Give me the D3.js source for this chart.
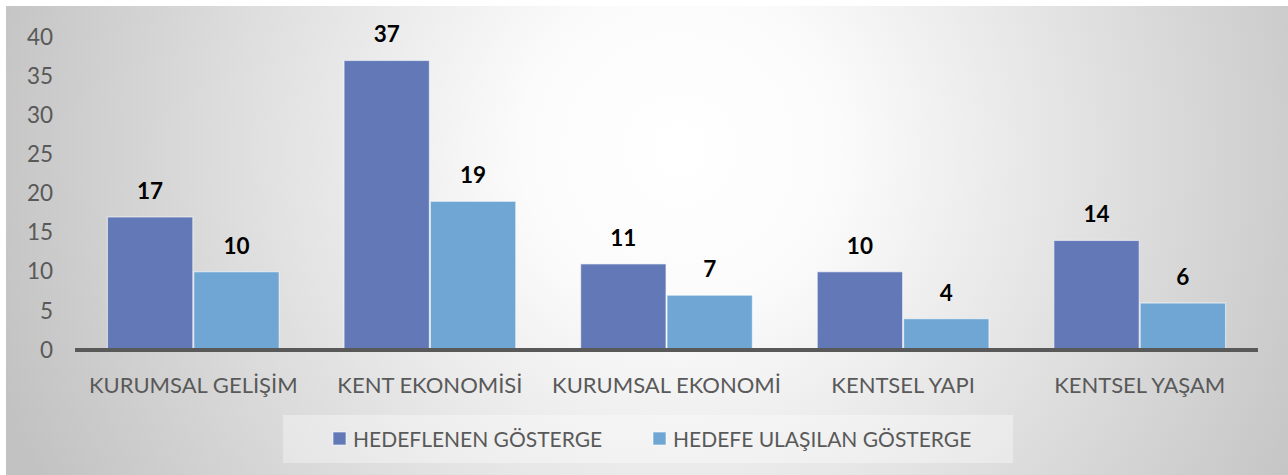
<!DOCTYPE html>
<html>
<head>
<meta charset="utf-8">
<script src="https://cdn.jsdelivr.net/npm/d3@7"></script>
<style>
  html, body { margin: 0; padding: 0; background: #ffffff; }
  svg { display: block; }
</style>
</head>
<body>
<svg id="chart" width="1288" height="475"></svg>
<script>
// Indicator counts per strategic area
const categories = ["KURUMSAL GELİŞİM", "KENT EKONOMİSİ", "KURUMSAL EKONOMİ", "KENTSEL YAPI", "KENTSEL YAŞAM"];
const targeted = [17, 37, 11, 10, 14];
const achieved = [10, 19, 7, 4, 6];
const seriesNames = ["HEDEFLENEN GÖSTERGE", "HEDEFE ULAŞILAN GÖSTERGE"];
const seriesColors = ["#6379B7", "#6FA6D4"];
const yTicks = [0, 5, 10, 15, 20, 25, 30, 35, 40];

const W = 1288, H = 475;
const font = "Lato, 'Open Sans', sans-serif";
const svg = d3.select("#chart");

// Backdrop: radial grey-to-white fill inside a thin white frame
const defs = svg.append("defs");
const grad = defs.append("radialGradient")
  .attr("id", "bg")
  .attr("gradientUnits", "userSpaceOnUse")
  .attr("cx", 680).attr("cy", 150).attr("r", 720);
grad.append("stop").attr("offset", "0").attr("stop-color", "#ffffff");
grad.append("stop").attr("offset", "0.22").attr("stop-color", "#fbfbfb");
grad.append("stop").attr("offset", "1").attr("stop-color", "#c2c2c2");

svg.append("rect").attr("x", 0).attr("y", 0).attr("width", W).attr("height", H).attr("fill", "#ffffff");
svg.append("rect").attr("x", 6).attr("y", 6).attr("width", W - 6).attr("height", H - 6).attr("fill", "url(#bg)");

const plot = { left: 75, right: 1258, top: 37, bottom: 350 };

const x0 = d3.scaleBand()
  .domain(categories)
  .range([plot.left, plot.right])
  .paddingInner(0.27)
  .paddingOuter(0.135);

const x1 = d3.scaleBand()
  .domain(d3.range(seriesNames.length))
  .range([0, x0.bandwidth()])
  .padding(0);

const y = d3.scaleLinear().domain([0, 40]).range([plot.bottom, plot.top]);

const rows = categories.map((c, i) => ({ cat: c, vals: [targeted[i], achieved[i]] }));

// Bars
const groups = svg.append("g").selectAll("g")
  .data(rows).join("g")
  .attr("transform", d => `translate(${x0(d.cat)},0)`);

groups.selectAll("rect")
  .data(d => d.vals.map((v, s) => ({ v, s })))
  .join("rect")
  .attr("x", d => x1(d.s) + 0.5)
  .attr("y", d => y(d.v))
  .attr("width", x1.bandwidth() - 1)
  .attr("height", d => y(0) - y(d.v))
  .attr("fill", d => seriesColors[d.s])
  .attr("stroke", "rgba(255,255,255,0.55)")
  .attr("stroke-width", 1.2);

// Value labels
groups.selectAll("text")
  .data(d => d.vals.map((v, s) => ({ v, s })))
  .join("text")
  .attr("x", d => x1(d.s) + x1.bandwidth() / 2)
  .attr("y", d => y(d.v) - 18)
  .attr("text-anchor", "middle")
  .attr("font-family", font)
  .attr("font-weight", "bold")
  .attr("font-size", 22.5)
  .attr("fill", "#000000")
  .text(d => d.v);

// Y axis (labels only)
const yAxis = svg.append("g")
  .attr("transform", `translate(${plot.left - 22},0)`)
  .call(d3.axisLeft(y).tickValues(yTicks).tickSize(0).tickPadding(0));
yAxis.select(".domain").remove();
yAxis.selectAll("text")
  .attr("font-family", font)
  .attr("font-size", 22.5)
  .attr("fill", "#595959");

// X axis: thick baseline and category labels
const xAxis = svg.append("g")
  .attr("transform", `translate(0,${plot.bottom})`)
  .call(d3.axisBottom(x0).tickSize(0).tickPadding(27));
xAxis.select(".domain")
  .attr("d", `M${plot.left},0H${plot.right}`)
  .attr("stroke", "#595959")
  .attr("stroke-width", 4);
xAxis.selectAll("text")
  .attr("font-family", font)
  .attr("font-size", 22)
  .attr("fill", "#595959");

// Legend
const legend = svg.append("g");
legend.append("rect")
  .attr("x", 283).attr("y", 415).attr("width", 730).attr("height", 48)
  .attr("fill", "rgba(255,255,255,0.35)");
const legendX = [333, 653];
const items = legend.selectAll("g.item")
  .data(seriesNames).join("g").attr("class", "item")
  .attr("transform", (d, i) => `translate(${legendX[i]},432)`);
items.append("rect")
  .attr("width", 13).attr("height", 13)
  .attr("fill", (d, i) => seriesColors[i])
  .attr("stroke", "rgba(255,255,255,0.6)");
items.append("text")
  .attr("x", 20).attr("y", 14.5)
  .attr("font-family", font)
  .attr("font-size", 21)
  .attr("fill", "#595959")
  .text(d => d);
</script>
</body>
</html>
